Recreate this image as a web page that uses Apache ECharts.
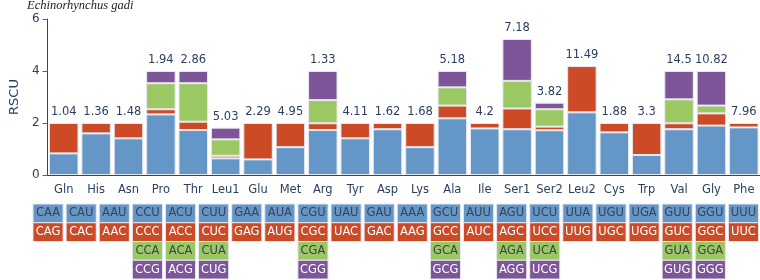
<!DOCTYPE html>
<html>
<head>
<meta charset="utf-8">
<script src="https://cdn.jsdelivr.net/npm/echarts@6/dist/echarts.min.js"></script>
<style>
  html, body { margin: 0; padding: 0; background: #fff; }
  #main { width: 760px; height: 280px; }
</style>
</head>
<body>
<div id="main"></div>
<script>
// amino acids on the x axis
const aminoAcids = ['Gln', 'His', 'Asn', 'Pro', 'Thr', 'Leu1', 'Glu', 'Met', 'Arg', 'Tyr', 'Asp',
  'Lys', 'Ala', 'Ile', 'Ser1', 'Ser2', 'Leu2', 'Cys', 'Trp', 'Val', 'Gly', 'Phe'];

// RSCU for 1st..4th codon of each amino acid ('-' = none)
const rscu1 = [0.83, 1.60, 1.41, 2.33, 1.73, 0.64, 0.60, 1.07, 1.73, 1.41, 1.76,
  1.07, 2.18, 1.79, 1.76, 1.72, 2.41, 1.64, 0.77, 1.76, 1.90, 1.83];
const rscu2 = [1.17, 0.40, 0.59, 0.20, 0.32, 0.10, 1.40, 0.93, 0.26, 0.59, 0.24,
  0.93, 0.49, 0.21, 0.80, 0.14, 1.78, 0.36, 1.23, 0.23, 0.47, 0.17];
const rscu3 = ['-', '-', '-', 1.00, 1.48, 0.63, '-', '-', 0.89, '-', '-',
  '-', 0.70, '-', 1.06, 0.67, '-', '-', '-', 0.92, 0.30, '-'];
const rscu4 = ['-', '-', '-', 0.47, 0.47, 0.45, '-', '-', 1.12, '-', '-',
  '-', 0.63, '-', 1.61, 0.25, '-', '-', '-', 1.09, 1.33, '-'];

// number printed above each column
const topLabels = ['1.04', '1.36', '1.48', '1.94', '2.86', '5.03', '2.29', '4.95', '1.33', '4.11', '1.62',
  '1.68', '5.18', '4.2', '7.18', '3.82', '11.49', '1.88', '3.3', '14.5', '10.82', '7.96'];

// codon table under the axis
const codon1 = ['CAA', 'CAU', 'AAU', 'CCU', 'ACU', 'CUU', 'GAA', 'AUA', 'CGU', 'UAU', 'GAU',
  'AAA', 'GCU', 'AUU', 'AGU', 'UCU', 'UUA', 'UGU', 'UGA', 'GUU', 'GGU', 'UUU'];
const codon2 = ['CAG', 'CAC', 'AAC', 'CCC', 'ACC', 'CUC', 'GAG', 'AUG', 'CGC', 'UAC', 'GAC',
  'AAG', 'GCC', 'AUC', 'AGC', 'UCC', 'UUG', 'UGC', 'UGG', 'GUC', 'GGC', 'UUC'];
const codon3 = ['', '', '', 'CCA', 'ACA', 'CUA', '', '', 'CGA', '', '',
  '', 'GCA', '', 'AGA', 'UCA', '', '', '', 'GUA', 'GGA', ''];
const codon4 = ['', '', '', 'CCG', 'ACG', 'CUG', '', '', 'CGG', '', '',
  '', 'GCG', '', 'AGG', 'UCG', '', '', '', 'GUG', 'GGG', ''];

const colors = ['#6497c8', '#cd4a27', '#9cc863', '#7e5598'];
const codonText = ['#3b4252', '#ffffff', '#3b4252', '#ffffff'];
const font = '"DejaVu Sans", Verdana, sans-serif';
const navy = '#2a3f5f';

const rscu = [rscu1, rscu2, rscu3, rscu4];
const codons = [codon1, codon2, codon3, codon4];

// which series is the top of each column
function topIndex(i) {
  let t = 0;
  rscu.forEach(function (arr, k) { if (arr[i] !== '-') t = k; });
  return t;
}

const barSeries = rscu.map(function (arr, k) {
  return {
    type: 'bar',
    stack: 'rscu',
    barCategoryGap: '9%',
    xAxisIndex: 0,
    yAxisIndex: 0,
    itemStyle: { color: colors[k], borderColor: '#e6e8f0', borderWidth: 1 },
    data: arr.map(function (v, i) {
      return {
        value: v,
        label: {
          show: topIndex(i) === k,
          position: 'top',
          distance: 5,
          formatter: topLabels[i],
          color: navy,
          fontFamily: font,
          fontSize: 11.5
        }
      };
    })
  };
});

const cellData = [];
codons.forEach(function (row, r) {
  row.forEach(function (c, i) {
    if (c) cellData.push([i, r, c]);
  });
});

let chart = echarts.init(document.getElementById('main'));
option = {
  animation: false,
  title: {
    text: 'Echinorhynchus gadi',
    left: 27,
    top: -1,
    padding: 0,
    textStyle: {
      fontFamily: '"Liberation Serif", serif',
      fontStyle: 'italic',
      fontWeight: 'normal',
      fontSize: 12.5,
      color: '#222'
    }
  },
  grid: [
    { left: 31.5, right: 0, top: 19, height: 156 },
    { left: 31.5, right: 0, top: 204, height: 75 }
  ],
  xAxis: [
    {
      type: 'category',
      gridIndex: 0,
      data: aminoAcids,
      axisLine: { lineStyle: { color: '#444' } },
      axisTick: { alignWithLabel: true, length: 5, lineStyle: { color: '#666' } },
      axisLabel: { interval: 0, color: navy, fontFamily: font, fontSize: 11.5, margin: 9 }
    },
    {
      type: 'category',
      gridIndex: 1,
      data: aminoAcids,
      show: false
    }
  ],
  yAxis: [
    {
      type: 'value',
      gridIndex: 0,
      min: 0,
      max: 6,
      interval: 2,
      name: 'RSCU',
      nameLocation: 'middle',
      nameGap: 21,
      nameTextStyle: { color: navy, fontFamily: font, fontSize: 13 },
      axisLine: { show: true, lineStyle: { color: '#444' } },
      axisTick: { show: true, length: 5, lineStyle: { color: '#666' } },
      axisLabel: { color: navy, fontFamily: font, fontSize: 12, margin: 8 },
      splitLine: { show: false }
    },
    {
      type: 'category',
      gridIndex: 1,
      data: ['1', '2', '3', '4'],
      inverse: true,
      show: false
    }
  ],
  series: barSeries.concat([
    {
      type: 'custom',
      xAxisIndex: 1,
      yAxisIndex: 1,
      data: cellData,
      renderItem: function (params, api) {
        const p = api.coord([api.value(0), api.value(1)]);
        const s = api.size([1, 1]);
        const w = s[0] * 0.91;
        const r = api.value(1);
        return {
          type: 'group',
          children: [
            {
              type: 'rect',
              shape: { x: p[0] - w / 2, y: p[1] - s[1] / 2, width: w, height: s[1] },
              style: { fill: colors[r], stroke: '#e6e8f0', lineWidth: 1 }
            },
            {
              type: 'text',
              x: p[0],
              y: p[1],
              style: {
                text: cellData[params.dataIndex][2],
                fill: codonText[r],
                font: '11.5px ' + font,
                align: 'center',
                verticalAlign: 'middle'
              }
            }
          ]
        };
      }
    }
  ])
};
chart.setOption(option);
</script>
</body>
</html>
